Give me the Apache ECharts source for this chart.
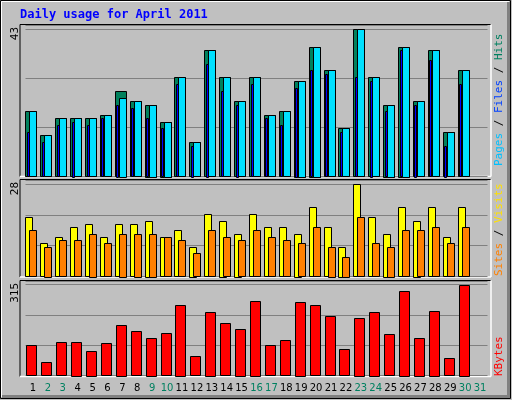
<!DOCTYPE html>
<html><head><meta charset="utf-8">
<script src="https://cdn.jsdelivr.net/npm/echarts@6/dist/echarts.min.js"></script>
<style>html,body{margin:0;padding:0;background:#c0c0c0}#c{width:512px;height:400px}</style>
</head><body><div id="c"></div>
<script>
const days = ['1','2','3','4','5','6','7','8','9','10','11','12','13','14','15','16','17','18','19','20','21','22','23','24','25','26','27','28','29','30','31'];
const weekend = ['2','3','9','10','16','17','23','24','30','31'];
const hits  = [19,12,17,17,17,18,25,22,21,16,29,10,37,29,22,29,18,19,28,38,31,14,43,29,21,38,22,37,13,31];
const files = [19,12,17,17,17,18,23,22,21,16,29,10,37,29,22,29,18,19,28,38,31,14,43,29,21,38,22,37,13,31];
const pages = [13,10,15,16,15,17,21,20,17,14,27,9,33,25,21,27,17,15,26,31,30,13,29,28,19,37,21,34,9,27];
const sites = [18,10,12,15,16,12,16,16,17,12,14,9,19,17,13,19,15,15,13,21,15,9,28,18,13,21,17,21,12,21];
const visits= [14,9,11,11,13,10,13,13,13,12,11,7,14,12,11,14,12,11,10,15,9,6,18,10,9,14,14,15,10,15];
const kbytes= [105,46,115,118,87,112,177,153,132,146,246,67,222,181,163,260,105,122,256,243,205,91,201,222,143,294,132,225,60,315];

const chart = echarts.init(document.getElementById('c'));
function barSeries(vals, grid, color, off, w, z){
  return {type:'custom', xAxisIndex:grid, yAxisIndex:grid, z:z,
    data: vals.map((v,i)=>[i,v]), encode:{x:0,y:1},
    renderItem:(p,api)=>{
      const top = api.coord([api.value(0), api.value(1)]);
      const base = api.coord([api.value(0), 0]);
      return {type:'rect', shape:{x:Math.round(top[0]+off)+0.5, y:Math.round(top[1])+0.5, width:w, height:Math.round(base[1]-top[1])},
        style:{fill:color, stroke:'#000', lineWidth:1}};
    }};
}
const L=25.5, R=24.5;
const grids=[{left:L,right:R,top:25,height:151.3},{left:L,right:R,top:180.5,height:95.8},{left:L,right:R,top:281,height:94.7}];
const maxes=[44.3,29.2,327.5], ints=[43/3,28/3,105];
const xAxes=grids.map((g,i)=>({type:'category',gridIndex:i,data:days,boundaryGap:true,
  axisLine:{show:false},axisTick:{show:false},
  axisLabel:{show:i===2,margin:8,fontFamily:'DejaVu Sans',fontSize:10,interval:0,
    color:(v)=>weekend.includes(v)?'#008060':'#000'}}));
const yAxes=grids.map((g,i)=>({type:'value',gridIndex:i,min:0,max:maxes[i],interval:ints[i],
  axisLabel:{show:false},axisLine:{show:false},axisTick:{show:false},
  splitLine:{show:true,lineStyle:{color:'#808080',width:1}}}));
function panel(y1,y2){return [
  {type:'line',shape:{x1:20,y1:y1,x2:491,y2:y1},style:{stroke:'#000'},z:-1},
  {type:'line',shape:{x1:20,y1:y1,x2:20,y2:y2},style:{stroke:'#000'},z:-1},
  {type:'line',shape:{x1:20,y1:y2,x2:491,y2:y2},style:{stroke:'#fff',lineWidth:1.5},z:-1},
  {type:'line',shape:{x1:491,y1:y1,x2:491,y2:y2},style:{stroke:'#fff',lineWidth:1.5},z:-1}];}
const mono='DejaVu Sans Mono';
function vtext(x,y,align,rich,text){return {type:'text',x:x,y:y,rotation:Math.PI/2,
  style:{text:text,rich:rich,align:align,verticalAlign:'middle',font:'11px '+mono,fill:'#000'}};}
chart.setOption({
  animation:false, backgroundColor:'#c0c0c0',
  grid:grids, xAxis:xAxes, yAxis:yAxes,
  graphic:[
    {type:'rect',shape:{x:0.5,y:0.5,width:510,height:398},style:{fill:'none',stroke:'#000'},z:-2},
    {type:'line',shape:{x1:1.5,y1:1.5,x2:509,y2:1.5},style:{stroke:'#fff'},z:-2},
    {type:'line',shape:{x1:1.5,y1:1.5,x2:1.5,y2:397},style:{stroke:'#fff'},z:-2},
    {type:'line',shape:{x1:2,y1:396.5,x2:510,y2:396.5},style:{stroke:'#808080',lineWidth:3},z:-2},
    {type:'line',shape:{x1:508.5,y1:2,x2:508.5,y2:398},style:{stroke:'#808080',lineWidth:3},z:-2},
    ...panel(24.5,176.5),...panel(179.5,277),...panel(280.5,376.5),
    {type:'text',x:20,y:9,style:{text:'Daily usage for April 2011',font:'bold 12px '+mono,fill:'#0000ff'}},
    vtext(15,27,'right',{},'43'),
    vtext(15,182,'right',{},'28'),
    vtext(15,283,'right',{},'315'),
    vtext(499,166,'left',{p:{fill:'#00c0ff',font:'11px '+mono},f:{fill:'#0040ff',font:'11px '+mono},h:{fill:'#008060',font:'11px '+mono},s:{fill:'#000',font:'11px '+mono}},'{p|Pages}{s| / }{f|Files}{s| / }{h|Hits}'),
    vtext(499,276,'left',{a:{fill:'#ff8000',font:'11px '+mono},b:{fill:'#ffe000',font:'11px '+mono},s:{fill:'#000',font:'11px '+mono}},'{a|Sites}{s| / }{b|Visits}'),
    vtext(499,376,'left',{k:{fill:'#ff0000',font:'11px '+mono}},'{k|KBytes}')
  ],
  series:[
    barSeries(hits,0,'#00805c',-7.5,11,1),
    barSeries(files,0,'#00e0ff',-3.5,7,2),
    barSeries(pages,0,'#0000ff',-6,2,3),
    barSeries(sites,1,'#ffff00',-7.5,7,1),
    barSeries(visits,1,'#ff8000',-3.5,7,2),
    barSeries(kbytes,2,'#ff0000',-6.5,10,1)
  ]
});
</script></body></html>
